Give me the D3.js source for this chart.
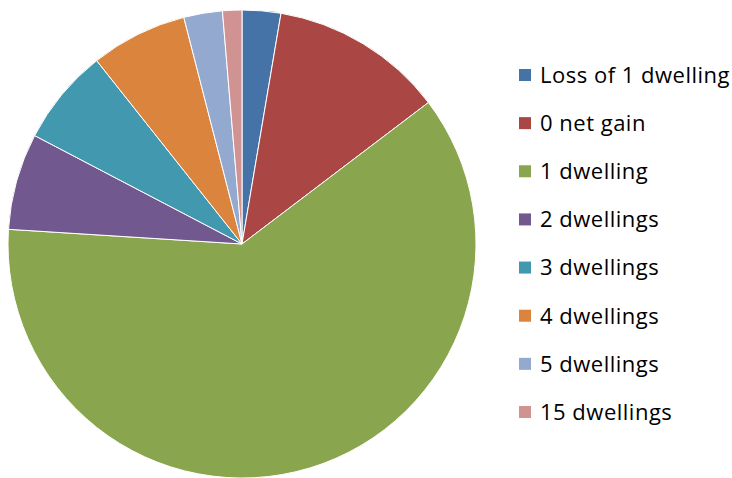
<!DOCTYPE html>
<html>
<head>
<meta charset="utf-8">
<script src="https://cdn.jsdelivr.net/npm/d3@7"></script>
<style>
body { margin: 0; background: #fff; }
text { font-family: "Open Sans", "Liberation Sans", sans-serif; }
</style>
</head>
<body>
<script>
const w = 732;
const h = 478;

const categories = ["Loss of 1 dwelling", "0 net gain", "1 dwelling", "2 dwellings", "3 dwellings", "4 dwellings", "5 dwellings", "15 dwellings"];
const values = [2, 9, 46, 5, 5, 5, 2, 1];
const colors = ["#4572A7", "#AA4643", "#89A54E", "#71588F", "#4198AF", "#DB843D", "#93A9CF", "#D19392"];

const dataset = categories.map((c, i) => ({name: c, value: values[i], color: colors[i]}));

const svg = d3.select("body")
	.append("svg")
	.attr("width", w)
	.attr("height", h);

const cx = 242, cy = 244, r = 234;

const pie = d3.pie().sort(null).value((d) => d.value);
const arc = d3.arc().innerRadius(0).outerRadius(r);

svg.append("g")
	.attr("transform", "translate(" + cx + "," + cy + ")")
	.selectAll("path")
	.data(pie(dataset))
	.enter()
	.append("path")
	.attr("d", arc)
	.attr("fill", (d) => d.data.color)
	.attr("stroke", "#fff")
	.attr("stroke-width", 1);

// legend
const legend = svg.append("g");
const rowY = d3.scalePoint().domain(categories).range([75, 412]);

const item = legend.selectAll("g")
	.data(dataset)
	.enter()
	.append("g")
	.attr("transform", (d) => "translate(519," + rowY(d.name) + ")");

item.append("rect")
	.attr("x", 0)
	.attr("y", -6)
	.attr("width", 12)
	.attr("height", 12)
	.attr("fill", (d) => d.color);

item.append("text")
	.attr("x", 21)
	.attr("y", 0)
	.attr("dy", "0.36em")
	.attr("font-size", 22)
	.attr("letter-spacing", 0.5)
	.attr("fill", "#000")
	.text((d) => d.name);
</script>
</body>
</html>
